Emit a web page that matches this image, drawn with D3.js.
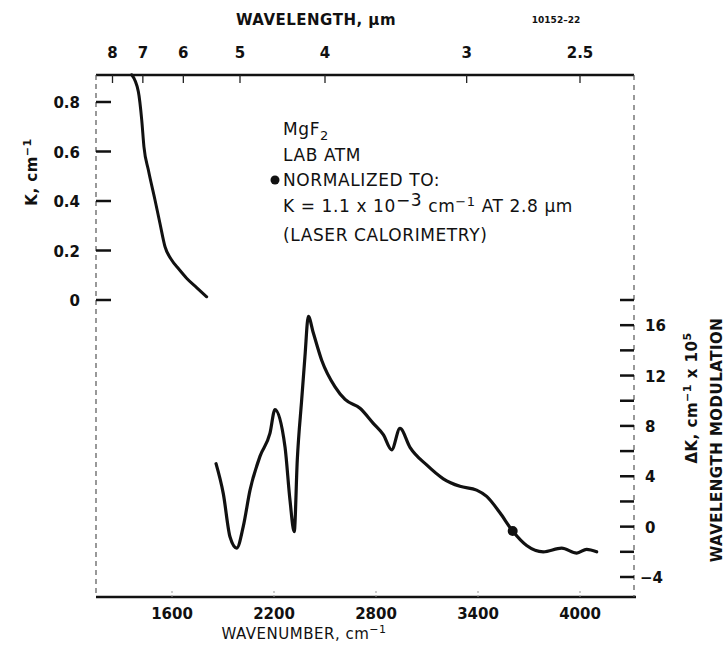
<!DOCTYPE html>
<html>
<head>
<meta charset="utf-8">
<script src="https://cdn.jsdelivr.net/npm/d3@7"></script>
<style>
  body { margin: 0; background: #fff; }
  svg text { font-family: "DejaVu Sans", sans-serif; fill: #111; }
  .tick-label { font-size: 15px; font-weight: bold; }
  .axis-title { font-size: 15px; letter-spacing: 0.5px; }
  .note { font-size: 17px; letter-spacing: 0.6px; }
</style>
</head>
<body>
<div id="chart"></div>
<script>
// Absorption coefficient K (upper curve)
var kWavenumber = [1363, 1402, 1422, 1435, 1461, 1500, 1529, 1559, 1598, 1640, 1686, 1745, 1804];
var kValues     = [0.91, 0.842, 0.727, 0.619, 0.525, 0.404, 0.310, 0.215, 0.162, 0.125, 0.088, 0.050, 0.013];

// Wavelength modulation signal dK x 1e5 (lower curve)
var dkWavenumber = [1859, 1902, 1941, 1981, 2019, 2059, 2118, 2176, 2206, 2265, 2294, 2319, 2337, 2363,
                    2382, 2402, 2431, 2481, 2559, 2618, 2706, 2784, 2843, 2892, 2941, 3000, 3098, 3196,
                    3294, 3392, 3451, 3529, 3604, 3686, 3784, 3892, 3981, 4039, 4098];
var dkValues     = [5.0, 2.6, -0.8, -1.7, 0.0, 2.9, 5.6, 7.4, 9.3, 6.3, 2.1, -0.4, 5.3, 10.1,
                    13.5, 16.7, 15.4, 13.2, 11.1, 10.1, 9.4, 8.2, 7.3, 6.1, 7.8, 6.3, 4.9, 3.8,
                    3.2, 2.9, 2.4, 1.1, -0.35, -1.5, -2.0, -1.7, -2.1, -1.8, -2.0];

// normalisation point (laser calorimetry)
var normWavenumber = 3604;
var normValue = -0.35;

// tick values
var wavenumberTicks = [1600, 2200, 2800, 3400, 4000];
var wavelengthTicks = [8, 7, 6, 5, 4, 3, 2.5];
var kTicks = [0, 0.2, 0.4, 0.6, 0.8];
var dkTicks = [-4, -2, 0, 2, 4, 6, 8, 10, 12, 14, 16, 18];
var dkLabels = [-4, 0, 4, 8, 12, 16];

var svgWidth = 728;
var svgHeight = 648;

// frame of the plot
var frame = { left: 96, right: 634, top: 75, bottom: 597 };

var svg = d3.select("#chart")
  .append("svg")
  .attr("width", svgWidth)
  .attr("height", svgHeight);

// scales
var xScale = d3.scaleLinear()
  .domain([1600, 4000])
  .range([172, 580]);

var yK = d3.scaleLinear()
  .domain([0, 0.8])
  .range([300, 102]);

var yDK = d3.scaleLinear()
  .domain([-4, 18])
  .range([577, 300]);

// frame: solid top/bottom, faint dashed sides
svg.append("line")
  .attr("x1", frame.left).attr("x2", frame.right)
  .attr("y1", frame.top).attr("y2", frame.top)
  .attr("stroke", "#111").attr("stroke-width", 2.5);

svg.append("line")
  .attr("x1", frame.left).attr("x2", frame.right + 2)
  .attr("y1", frame.bottom).attr("y2", frame.bottom)
  .attr("stroke", "#111").attr("stroke-width", 2.5);

svg.append("line")
  .attr("x1", frame.left).attr("x2", frame.left)
  .attr("y1", frame.top).attr("y2", frame.bottom)
  .attr("stroke", "#555").attr("stroke-width", 1.2)
  .attr("stroke-dasharray", "5,4");

svg.append("line")
  .attr("x1", frame.right).attr("x2", frame.right)
  .attr("y1", frame.top).attr("y2", frame.bottom)
  .attr("stroke", "#555").attr("stroke-width", 1.2)
  .attr("stroke-dasharray", "5,5");

// top axis: wavelength in um, placed at 1e4/lambda
var topAxis = svg.append("g");
topAxis.selectAll("line")
  .data(wavelengthTicks)
  .enter()
  .append("line")
  .attr("x1", d => xScale(1e4 / d)).attr("x2", d => xScale(1e4 / d))
  .attr("y1", frame.top).attr("y2", frame.top + 8)
  .attr("stroke", "#222").attr("stroke-width", 1.3);

topAxis.selectAll("text")
  .data(wavelengthTicks)
  .enter()
  .append("text")
  .attr("class", "tick-label")
  .attr("x", d => xScale(1e4 / d))
  .attr("y", 58)
  .attr("text-anchor", "middle")
  .text(d => d);

svg.append("text")
  .attr("class", "axis-title")
  .attr("x", 316).attr("y", 25)
  .attr("text-anchor", "middle")
  .style("font-weight", "bold")
  .text("WAVELENGTH, µm");

svg.append("text")
  .attr("x", 556).attr("y", 23)
  .attr("text-anchor", "middle")
  .style("font-size", "9px")
  .style("font-weight", "bold")
  .text("10152–22");

// bottom axis: wavenumber
var bottomAxis = svg.append("g");
bottomAxis.selectAll("line")
  .data(wavenumberTicks)
  .enter()
  .append("line")
  .attr("x1", d => xScale(d)).attr("x2", d => xScale(d))
  .attr("y1", frame.bottom).attr("y2", frame.bottom - 6)
  .attr("stroke", "#999").attr("stroke-width", 1)
  .attr("stroke-dasharray", "2,2");

bottomAxis.selectAll("text")
  .data(wavenumberTicks)
  .enter()
  .append("text")
  .attr("class", "tick-label")
  .attr("x", d => xScale(d))
  .attr("y", 619)
  .attr("text-anchor", "middle")
  .text(d => d);

var xTitle = svg.append("text")
  .attr("class", "axis-title")
  .attr("x", 304).attr("y", 639)
  .attr("text-anchor", "middle");
xTitle.append("tspan").text("WAVENUMBER, cm");
xTitle.append("tspan").attr("baseline-shift", "super").style("font-size", "11px").text("−1");

// left axis: K
var leftAxis = svg.append("g");
leftAxis.selectAll("line")
  .data(kTicks)
  .enter()
  .append("line")
  .attr("x1", frame.left).attr("x2", frame.left + 15)
  .attr("y1", d => yK(d)).attr("y2", d => yK(d))
  .attr("stroke", "#111").attr("stroke-width", 2.5);

leftAxis.selectAll("text")
  .data(kTicks)
  .enter()
  .append("text")
  .attr("class", "tick-label")
  .attr("x", 80)
  .attr("y", d => yK(d) + 6)
  .attr("text-anchor", "end")
  .text(d => d === 0 ? "0" : d.toFixed(1));

var kTitle = svg.append("text")
  .attr("class", "axis-title")
  .attr("transform", "translate(37, 172) rotate(-90)")
  .attr("text-anchor", "middle")
  .style("font-weight", "bold");
kTitle.append("tspan").text("K, cm");
kTitle.append("tspan").attr("baseline-shift", "super").style("font-size", "11px").text("−1");

// right axis: dK x 1e5
var rightAxis = svg.append("g");
rightAxis.selectAll("line")
  .data(dkTicks)
  .enter()
  .append("line")
  .attr("x1", frame.right - 14).attr("x2", frame.right)
  .attr("y1", d => yDK(d)).attr("y2", d => yDK(d))
  .attr("stroke", "#111").attr("stroke-width", 2.5);

rightAxis.selectAll("text")
  .data(dkLabels)
  .enter()
  .append("text")
  .attr("class", "tick-label")
  .attr("x", d => d < 0 ? 640 : 645)
  .attr("y", d => yDK(d) + 6)
  .attr("text-anchor", "start")
  .text(d => d < 0 ? "−" + Math.abs(d) : d);

var dkTitle = svg.append("text")
  .attr("class", "axis-title")
  .attr("transform", "translate(697, 398) rotate(-90)")
  .attr("text-anchor", "middle")
  .style("font-weight", "bold");
dkTitle.append("tspan").text("ΔK, cm");
dkTitle.append("tspan").attr("baseline-shift", "super").style("font-size", "11px").text("−1");
dkTitle.append("tspan").attr("baseline-shift", "baseline").text(" x 10");
dkTitle.append("tspan").attr("baseline-shift", "super").style("font-size", "11px").text("5");

svg.append("text")
  .attr("class", "axis-title")
  .attr("transform", "translate(722, 440) rotate(-90)")
  .attr("text-anchor", "middle")
  .style("font-weight", "bold")
  .text("WAVELENGTH MODULATION");

// curves
var kLine = d3.line()
  .x(d => xScale(d[0]))
  .y(d => yK(d[1]))
  .curve(d3.curveMonotoneX);

svg.append("path")
  .datum(d3.zip(kWavenumber, kValues))
  .attr("d", kLine)
  .attr("fill", "none")
  .attr("stroke", "#111")
  .attr("stroke-width", 3)
  .attr("stroke-linejoin", "round")
  .attr("stroke-linecap", "round");

var dkLine = d3.line()
  .x(d => xScale(d[0]))
  .y(d => yDK(d[1]))
  .curve(d3.curveMonotoneX);

svg.append("path")
  .datum(d3.zip(dkWavenumber, dkValues))
  .attr("d", dkLine)
  .attr("fill", "none")
  .attr("stroke", "#111")
  .attr("stroke-width", 3.2)
  .attr("stroke-linejoin", "round")
  .attr("stroke-linecap", "round");

svg.append("circle")
  .attr("cx", xScale(normWavenumber))
  .attr("cy", yDK(normValue))
  .attr("r", 5)
  .attr("fill", "#111");

// annotation block
var note = svg.append("g").attr("class", "note");
var noteX = 283;

var l1 = note.append("text").attr("x", noteX).attr("y", 135);
l1.append("tspan").text("MgF");
l1.append("tspan").attr("dy", 5).style("font-size", "13px").text("2");

note.append("text").attr("x", noteX).attr("y", 161).text("LAB ATM");

note.append("circle").attr("cx", noteX - 8).attr("cy", 180).attr("r", 4.5).attr("fill", "#111");
note.append("text").attr("x", noteX).attr("y", 186).text("NORMALIZED TO:");

var l4 = note.append("text").attr("x", noteX).attr("y", 212);
l4.append("tspan").text("K = 1.1 x 10");
l4.append("tspan").attr("dy", -6).text("−3");
l4.append("tspan").attr("dy", 6).text(" cm");
l4.append("tspan").attr("dy", -6).style("font-size", "13px").text("−1");
l4.append("tspan").attr("dy", 6).text(" AT 2.8 µm");

note.append("text").attr("x", noteX).attr("y", 241).text("(LASER CALORIMETRY)");
</script>
</body>
</html>
